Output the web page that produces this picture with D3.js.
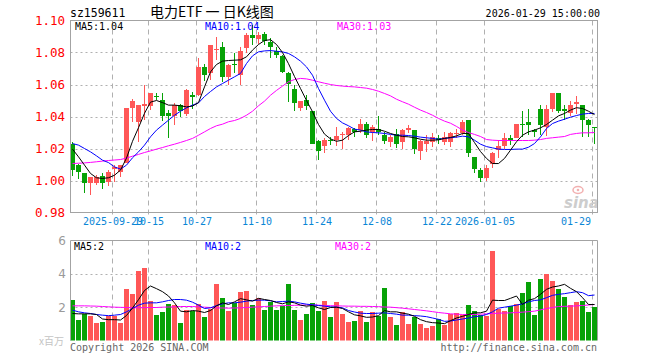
<!DOCTYPE html>
<html><head><meta charset="utf-8">
<script src="https://cdn.jsdelivr.net/npm/d3@7/dist/d3.min.js"></script>
<style>body{margin:0;background:#fff}svg{display:block}</style>
</head><body>
<svg id="chart" width="660" height="360"></svg>
<script>
const dates = ["2025-09-18","2025-09-19","2025-09-22","2025-09-23","2025-09-24","2025-09-25","2025-09-26","2025-09-29","2025-09-30",
"2025-10-09","2025-10-10","2025-10-13","2025-10-14","2025-10-15","2025-10-16","2025-10-17","2025-10-20","2025-10-21","2025-10-22","2025-10-23","2025-10-24","2025-10-27","2025-10-28","2025-10-29","2025-10-30","2025-10-31",
"2025-11-03","2025-11-04","2025-11-05","2025-11-06","2025-11-07","2025-11-10","2025-11-11","2025-11-12","2025-11-13","2025-11-14","2025-11-17","2025-11-18","2025-11-19","2025-11-20","2025-11-21","2025-11-24","2025-11-25","2025-11-26","2025-11-27","2025-11-28",
"2025-12-01","2025-12-02","2025-12-03","2025-12-04","2025-12-05","2025-12-08","2025-12-09","2025-12-10","2025-12-11","2025-12-12","2025-12-15","2025-12-16","2025-12-17","2025-12-18","2025-12-19","2025-12-22","2025-12-23","2025-12-24","2025-12-25","2025-12-26","2025-12-29","2025-12-30","2025-12-31",
"2026-01-05","2026-01-06","2026-01-07","2026-01-08","2026-01-09","2026-01-12","2026-01-13","2026-01-14","2026-01-15","2026-01-16","2026-01-19","2026-01-20","2026-01-21","2026-01-22","2026-01-23","2026-01-26","2026-01-27","2026-01-28","2026-01-29"];

const openP = [1.0231,1.0100,1.0048,0.9983,0.9983,1.0027,0.9992,1.0071,1.0054,1.0112,
1.0454,1.0367,1.0467,1.0467,1.0529,1.0502,1.0425,1.0404,1.0471,1.0415,
1.0533,1.0533,1.0710,1.0669,1.0821,1.0836,1.0648,1.0727,1.0658,1.0829,
1.0908,1.0883,1.0913,1.0863,1.0810,1.0779,1.0675,1.0575,1.0454,1.0502,
1.0433,1.0246,1.0217,1.0252,1.0252,1.0283,1.0283,1.0325,1.0315,1.0352,
1.0304,1.0325,1.0283,1.0238,1.0288,1.0238,1.0315,1.0315,1.0185,1.0231,
1.0238,1.0263,1.0238,1.0238,1.0294,1.0300,1.0381,1.0148,1.0065,1.0017,
1.0106,1.0190,1.0217,1.0263,1.0267,1.0352,1.0363,1.0315,1.0450,1.0335,
1.0450,1.0544,1.0450,1.0419,1.0477,1.0475,1.0377,1.0335];
const closeP = [1.0065,1.0054,0.9983,1.0019,1.0023,0.9983,1.0054,1.0083,1.0096,1.0454,
1.0496,1.0471,1.0481,1.0546,1.0521,1.0404,1.0404,1.0475,1.0435,1.0565,
1.0525,1.0710,1.0658,1.0846,1.0825,1.0648,1.0725,1.0723,1.0808,1.0908,
1.0888,1.0908,1.0871,1.0836,1.0783,1.0679,1.0606,1.0487,1.0496,1.0467,
1.0231,1.0183,1.0252,1.0248,1.0277,1.0292,1.0331,1.0304,1.0352,1.0283,
1.0335,1.0304,1.0246,1.0273,1.0229,1.0315,1.0331,1.0200,1.0246,1.0250,
1.0273,1.0252,1.0273,1.0300,1.0300,1.0367,1.0169,1.0069,1.0017,1.0081,
1.0175,1.0215,1.0263,1.0252,1.0352,1.0346,1.0346,1.0304,1.0346,1.0446,
1.0544,1.0433,1.0433,1.0475,1.0492,1.0377,1.0346,1.0331];
const highP = [1.0242,1.0106,1.0048,1.0023,1.0033,1.0050,1.0065,1.0100,1.0100,1.0454,
1.0508,1.0471,1.0600,1.0546,1.0546,1.0548,1.0440,1.0487,1.0479,1.0575,
1.0554,1.0763,1.0731,1.0846,1.0898,1.0867,1.0731,1.0794,1.0836,1.0919,
1.0971,1.0929,1.0929,1.0888,1.0836,1.0783,1.0679,1.0596,1.0496,1.0533,
1.0433,1.0252,1.0263,1.0273,1.0335,1.0304,1.0335,1.0331,1.0383,1.0363,
1.0346,1.0402,1.0304,1.0283,1.0325,1.0325,1.0350,1.0315,1.0252,1.0283,
1.0294,1.0283,1.0304,1.0304,1.0325,1.0377,1.0381,1.0148,1.0079,1.0096,
1.0179,1.0252,1.0298,1.0283,1.0352,1.0433,1.0450,1.0325,1.0475,1.0475,
1.0550,1.0544,1.0475,1.0496,1.0527,1.0475,1.0383,1.0335];
const lowP = [1.0029,1.0008,0.9919,0.9908,0.9971,0.9950,0.9967,0.9992,1.0023,1.0112,
1.0367,1.0242,1.0377,1.0440,1.0502,1.0371,1.0263,1.0350,1.0398,1.0404,
1.0450,1.0529,1.0621,1.0627,1.0752,1.0617,1.0600,1.0669,1.0600,1.0794,
1.0846,1.0856,1.0850,1.0763,1.0763,1.0675,1.0492,1.0433,1.0433,1.0440,
1.0231,1.0127,1.0175,1.0221,1.0217,1.0200,1.0252,1.0273,1.0294,1.0267,
1.0246,1.0283,1.0227,1.0210,1.0204,1.0200,1.0294,1.0163,1.0127,1.0179,
1.0210,1.0231,1.0221,1.0210,1.0263,1.0283,1.0148,1.0044,0.9992,0.9996,
1.0079,1.0142,1.0200,1.0221,1.0263,1.0273,1.0283,1.0273,1.0283,1.0279,
1.0429,1.0419,1.0377,1.0404,1.0413,1.0273,1.0273,1.0227];

const ma5 = [1.0196,1.0148,1.0096,1.0044,1.0017,1.0013,1.0017,1.0033,1.0065,1.0140,
1.0245,1.0330,1.0420,1.0490,1.0500,1.0487,1.0471,1.0471,1.0467,1.0460,
1.0465,1.0487,1.0585,1.0679,1.0725,1.0746,1.0750,1.0752,1.0754,1.0773,
1.0815,1.0850,1.0875,1.0880,1.0850,1.0800,1.0730,1.0650,1.0575,1.0500,
1.0430,1.0350,1.0290,1.0260,1.0245,1.0252,1.0281,1.0304,1.0308,1.0315,
1.0319,1.0319,1.0308,1.0294,1.0283,1.0275,1.0273,1.0267,1.0258,1.0252,
1.0252,1.0254,1.0263,1.0269,1.0279,1.0294,1.0294,1.0237,1.0181,1.0138,
1.0106,1.0106,1.0138,1.0190,1.0242,1.0283,1.0304,1.0315,1.0329,1.0350,
1.0377,1.0404,1.0419,1.0440,1.0455,1.0450,1.0433,1.0412];
const ma10 = [1.0231,1.0221,1.0200,1.0179,1.0154,1.0127,1.0112,1.0085,1.0071,1.0096,
1.0142,1.0179,1.0221,1.0273,1.0315,1.0346,1.0377,1.0408,1.0433,1.0454,
1.0471,1.0485,1.0525,1.0556,1.0585,1.0606,1.0627,1.0648,1.0669,1.0731,
1.0779,1.0804,1.0810,1.0812,1.0808,1.0804,1.0794,1.0773,1.0746,1.0710,
1.0658,1.0575,1.0502,1.0433,1.0388,1.0360,1.0342,1.0321,1.0315,1.0304,
1.0300,1.0298,1.0294,1.0288,1.0283,1.0283,1.0281,1.0277,1.0271,1.0267,
1.0263,1.0258,1.0263,1.0267,1.0271,1.0277,1.0273,1.0252,1.0227,1.0212,
1.0204,1.0196,1.0194,1.0194,1.0196,1.0196,1.0208,1.0231,1.0273,1.0325,
1.0356,1.0371,1.0383,1.0396,1.0406,1.0415,1.0419,1.0419];
const ma30 = [1.0106,1.0108,1.0110,1.0113,1.0117,1.0121,1.0125,1.0128,1.0131,1.0140,
1.0152,1.0163,1.0175,1.0185,1.0196,1.0206,1.0217,1.0227,1.0238,1.0250,
1.0263,1.0283,1.0304,1.0325,1.0342,1.0352,1.0367,1.0375,1.0388,1.0408,
1.0433,1.0467,1.0496,1.0533,1.0563,1.0590,1.0617,1.0631,1.0638,1.0635,
1.0627,1.0617,1.0608,1.0600,1.0594,1.0590,1.0587,1.0585,1.0581,1.0577,
1.0569,1.0558,1.0544,1.0529,1.0508,1.0492,1.0477,1.0458,1.0440,1.0425,
1.0408,1.0388,1.0371,1.0358,1.0338,1.0315,1.0300,1.0288,1.0275,1.0256,
1.0252,1.0250,1.0250,1.0250,1.0250,1.0250,1.0250,1.0252,1.0256,1.0263,
1.0267,1.0271,1.0275,1.0288,1.0294,1.0298,1.0298,1.0300];

const volume = [2.46,1.25,1.62,1.49,1.07,1.13,1.49,1.49,1.07,3.07,
2.77,4.16,4.36,2.40,1.56,1.74,2.22,2.16,1.07,1.86,
1.80,2.22,1.43,1.92,3.37,2.53,1.80,2.28,2.89,2.95,
2.16,2.53,1.86,2.34,1.86,2.10,3.37,1.86,1.25,1.62,
2.28,1.80,2.40,1.43,2.34,1.62,1.13,1.19,1.80,1.13,
1.74,1.45,3.13,1.43,0.95,1.74,1.01,1.43,1.01,0.77,
0.89,1.31,0.95,1.62,1.68,1.56,2.16,1.80,1.56,1.49,
5.39,1.92,1.80,2.06,2.22,2.83,3.49,1.56,3.68,3.98,
3.56,3.07,2.59,2.16,2.34,2.40,1.74,2.04];
const vma5 = [1.62,1.60,1.60,1.60,1.56,1.29,1.25,1.25,1.23,1.50,
1.95,2.45,3.00,3.27,3.11,2.93,2.67,2.26,1.76,1.72,
1.80,1.76,1.68,1.80,2.08,2.26,2.16,2.32,2.51,2.44,
2.36,2.53,2.46,2.40,2.28,2.20,2.32,2.26,2.12,2.06,
2.10,1.96,1.86,1.98,2.00,1.92,1.72,1.54,1.48,1.39,
1.41,1.49,1.80,1.72,1.72,1.64,1.58,1.45,1.25,1.13,
1.07,1.05,1.01,1.19,1.35,1.45,1.56,1.66,1.66,1.76,
2.42,2.40,2.40,2.53,2.67,2.16,2.42,2.51,2.77,3.07,
3.21,3.27,3.37,3.13,2.93,2.57,2.16,2.16];
const vma10 = [1.82,1.72,1.66,1.62,1.56,1.52,1.49,1.52,1.56,1.72,
1.92,2.12,2.24,2.26,2.26,2.32,2.40,2.46,2.46,2.42,
2.30,2.12,1.92,1.96,2.10,2.20,2.26,2.26,2.30,2.36,
2.40,2.42,2.42,2.38,2.32,2.34,2.36,2.32,2.24,2.18,
2.14,2.10,2.06,2.02,2.00,1.96,1.80,1.71,1.64,1.62,
1.62,1.64,1.66,1.62,1.58,1.52,1.52,1.49,1.47,1.43,
1.35,1.27,1.15,1.17,1.23,1.29,1.35,1.43,1.47,1.56,
1.72,1.94,2.00,2.06,2.12,2.20,2.32,2.40,2.44,2.57,
2.71,2.77,2.81,2.87,2.93,2.87,2.69,2.73];
const vma30 = [2.08,2.08,2.08,2.07,2.06,2.04,2.02,2.00,1.99,1.98,
1.97,1.96,1.97,1.98,1.98,2.00,2.01,2.02,2.04,2.04,
2.04,2.02,2.00,1.98,1.96,1.95,1.94,1.95,1.96,1.98,
2.00,2.02,2.04,2.06,2.08,2.09,2.10,2.11,2.12,2.13,
2.14,2.12,2.10,2.09,2.08,2.07,2.06,2.06,2.05,2.05,
2.04,2.03,2.01,2.00,1.97,1.94,1.90,1.86,1.82,1.78,
1.73,1.68,1.64,1.60,1.58,1.56,1.56,1.56,1.58,1.60,
1.62,1.64,1.65,1.66,1.68,1.70,1.73,1.76,1.84,1.92,
1.98,2.04,2.05,2.06,2.08,2.10,2.13,2.16];

const priceTicks = [1.10,1.08,1.06,1.04,1.02,1.00,0.98];
const priceGrid = [1.08,1.06,1.04,1.02,1.00];
const volTicks = [6,4,2];
const volGrid = [4,2];
const tickDates = ["2025-09-29","2025-10-15","2025-10-27","2025-11-10","2025-11-24","2025-12-08","2025-12-22","2026-01-05","2026-01-29"];
const tickLabels = ["2025-09-29","10-15","10-27","11-10","11-24","12-08","12-22","2026-01-05","01-29"];

const RED = "#ff5757", GREEN = "#07a207", BORDER = "#a3a3a3", GRID = "#b0b0b0";
const MONO = "'DejaVu Sans Mono', monospace";

const svg = d3.select("#chart");
const L = 70.5, R = 597.5, T = 20.5, B = 212.5, VT = 240.5, VB = 340.5;

const x = d3.scaleBand().domain(dates).range([69, 597]).padding(0);
const y = d3.scaleLinear().domain([0.98, 1.10]).range([B, T]);
const yv = d3.scaleLinear().domain([0, 6]).range([VB, VT]);
const idx = d3.range(dates.length);
const up = i => closeP[i] >= openP[i];

// ---- header
svg.append("text").attr("x", 70).attr("y", 17).attr("font-family", MONO).attr("font-size", 11.5).attr("fill", "#000").text("sz159611");
svg.append("text").attr("x", 150).attr("y", 17).attr("font-family", "'Noto Sans CJK SC', sans-serif").attr("font-size", 14).attr("fill", "#000").attr("xml:space", "preserve").text("电力ETF 一 日K线图");
svg.append("text").attr("x", 600).attr("y", 17).attr("text-anchor", "end").attr("font-family", MONO).attr("font-size", 10).attr("fill", "#000").text("2026-01-29 15:00:00");

// ---- clip paths
const defs = svg.append("defs");
defs.append("clipPath").attr("id", "cpMain").append("rect").attr("x", L).attr("y", T).attr("width", R - L).attr("height", B - T);
defs.append("clipPath").attr("id", "cpVol").append("rect").attr("x", L).attr("y", VT).attr("width", R - L).attr("height", VB - VT);

// ---- grid main
const gMainGrid = svg.append("g");
gMainGrid.selectAll("line.h").data(priceGrid).join("line")
  .attr("x1", L).attr("x2", R).attr("y1", d => Math.round(y(d)) + 0.5).attr("y2", d => Math.round(y(d)) + 0.5)
  .attr("stroke", GRID).attr("stroke-dasharray", "2,3");
gMainGrid.selectAll("line.v").data(tickDates).join("line")
  .attr("x1", d => x(d) + 1.5).attr("x2", d => x(d) + 1.5).attr("y1", T).attr("y2", B + 4)
  .attr("stroke", GRID).attr("stroke-dasharray", "5,4");
// vol grid
const gVolGrid = svg.append("g");
gVolGrid.selectAll("line.h").data(volGrid).join("line")
  .attr("x1", L).attr("x2", R).attr("y1", d => Math.round(yv(d)) + 0.5).attr("y2", d => Math.round(yv(d)) + 0.5)
  .attr("stroke", GRID).attr("stroke-dasharray", "2,3");
gVolGrid.selectAll("line.v").data(tickDates).join("line")
  .attr("x1", d => x(d) + 1.5).attr("x2", d => x(d) + 1.5).attr("y1", VT).attr("y2", VB)
  .attr("stroke", GRID).attr("stroke-dasharray", "5,4");

// ---- sina watermark
const wm = svg.append("g");
wm.append("ellipse").attr("cx", 578).attr("cy", 190).attr("rx", 5).attr("ry", 3.5).attr("fill", "none").attr("stroke", "#f2b0b0").attr("stroke-width", 1.5);
wm.append("circle").attr("cx", 578).attr("cy", 190).attr("r", 1.3).attr("fill", "#f2b0b0");
wm.append("text").attr("x", 564).attr("y", 208).attr("font-family", "'DejaVu Sans', sans-serif").attr("font-weight", "bold").attr("font-style", "italic").attr("font-size", 15).attr("fill", "#cdcdcd").text("sina");

// ---- candles
const gC = svg.append("g").attr("clip-path", "url(#cpMain)").attr("shape-rendering", "crispEdges");
gC.selectAll("line.wick").data(idx).join("line")
  .attr("x1", i => x(dates[i]) + 3.5).attr("x2", i => x(dates[i]) + 3.5)
  .attr("y1", i => y(highP[i])).attr("y2", i => y(lowP[i]))
  .attr("stroke", i => up(i) ? RED : GREEN);
gC.selectAll("rect.body").data(idx).join("rect")
  .attr("x", i => x(dates[i]) + 1).attr("width", 5)
  .attr("y", i => y(Math.max(openP[i], closeP[i])))
  .attr("height", i => Math.max(1, Math.abs(y(openP[i]) - y(closeP[i]))))
  .attr("fill", i => up(i) ? RED : GREEN);

// ---- MA lines main
const lineP = arr => d3.line().x((d, i) => x(dates[i]) + 3.5).y(d => y(d))(arr);
const gMA = svg.append("g").attr("clip-path", "url(#cpMain)").attr("fill", "none").attr("stroke-width", 1);
gMA.append("path").attr("d", lineP(ma30)).attr("stroke", "#ff00ff");
gMA.append("path").attr("d", lineP(ma10)).attr("stroke", "#0000ff");
gMA.append("path").attr("d", lineP(ma5)).attr("stroke", "#000");

// ---- volume bars
const gV = svg.append("g").attr("clip-path", "url(#cpVol)").attr("shape-rendering", "crispEdges");
gV.selectAll("rect").data(idx).join("rect")
  .attr("x", i => x(dates[i]) + 1).attr("width", 5)
  .attr("y", i => yv(volume[i])).attr("height", i => yv(0) - yv(volume[i]))
  .attr("fill", i => up(i) ? RED : GREEN);
const lineV = arr => d3.line().x((d, i) => x(dates[i]) + 3.5).y(d => yv(d))(arr);
const gVM = svg.append("g").attr("clip-path", "url(#cpVol)").attr("fill", "none").attr("stroke-width", 1);
gVM.append("path").attr("d", lineV(vma30)).attr("stroke", "#ff00ff");
gVM.append("path").attr("d", lineV(vma10)).attr("stroke", "#0000ff");
gVM.append("path").attr("d", lineV(vma5)).attr("stroke", "#000");

// ---- borders
svg.append("rect").attr("x", L).attr("y", T).attr("width", R - L).attr("height", B - T).attr("fill", "none").attr("stroke", BORDER);
svg.append("line").attr("x1", L).attr("x2", R).attr("y1", VT).attr("y2", VT).attr("stroke", BORDER);
svg.append("line").attr("x1", L).attr("x2", L).attr("y1", VT).attr("y2", VB).attr("stroke", BORDER);
svg.append("line").attr("x1", R).attr("x2", R).attr("y1", VT).attr("y2", VB).attr("stroke", BORDER);

// ---- price axis labels
svg.append("g").selectAll("text").data(priceTicks).join("text")
  .attr("x", 65).attr("y", d => y(d) + 4.5).attr("text-anchor", "end")
  .attr("font-family", MONO).attr("font-size", 12.5).attr("fill", "#ff0000").text(d => d.toFixed(2));
// volume axis labels
svg.append("g").selectAll("text").data(volTicks).join("text")
  .attr("x", 66).attr("y", d => yv(d) + 4.5).attr("text-anchor", "end")
  .attr("font-family", "'DejaVu Sans', sans-serif").attr("font-size", 12).attr("fill", "#9a9a9a").text(d => d);
svg.append("text").attr("x", 39).attr("y", 345).attr("font-family", "'Noto Sans CJK SC', sans-serif").attr("font-size", 10).attr("fill", "#c4c4c4").text("x百万");

// ---- date labels
svg.append("g").selectAll("text").data(tickDates).join("text")
  .attr("x", (d, i) => i === tickDates.length - 1 ? 591 : x(d) + 2)
  .attr("y", 225)
  .attr("text-anchor", (d, i) => i === tickDates.length - 1 ? "end" : "middle")
  .attr("font-family", MONO).attr("font-size", 10).attr("fill", "#0a86d6")
  .text((d, i) => tickLabels[i]);

// ---- MA legends
const last = a => a[a.length - 1];
svg.append("text").attr("x", 75).attr("y", 30).attr("font-family", MONO).attr("font-size", 10).attr("fill", "#000").text("MA5:" + last(ma5).toFixed(2));
svg.append("text").attr("x", 205).attr("y", 30).attr("font-family", MONO).attr("font-size", 10).attr("fill", "#0000ff").text("MA10:" + last(ma10).toFixed(2));
svg.append("text").attr("x", 337).attr("y", 30).attr("font-family", MONO).attr("font-size", 10).attr("fill", "#ff00ff").text("MA30:" + last(ma30).toFixed(2));
svg.append("text").attr("x", 74).attr("y", 250).attr("font-family", MONO).attr("font-size", 10).attr("fill", "#000").text("MA5:" + Math.floor(last(vma5)));
svg.append("text").attr("x", 205).attr("y", 250).attr("font-family", MONO).attr("font-size", 10).attr("fill", "#0000ff").text("MA10:" + Math.floor(last(vma10)));
svg.append("text").attr("x", 335).attr("y", 250).attr("font-family", MONO).attr("font-size", 10).attr("fill", "#ff00ff").text("MA30:" + Math.floor(last(vma30)));

// ---- footer
svg.append("text").attr("x", 70).attr("y", 351).attr("font-family", MONO).attr("font-size", 10).attr("fill", "#666").text("Copyright 2026 SINA.COM");
svg.append("text").attr("x", 597).attr("y", 351).attr("text-anchor", "end").attr("font-family", MONO).attr("font-size", 10).attr("fill", "#666").text("http://finance.sina.com.cn");
</script>
</body></html>
